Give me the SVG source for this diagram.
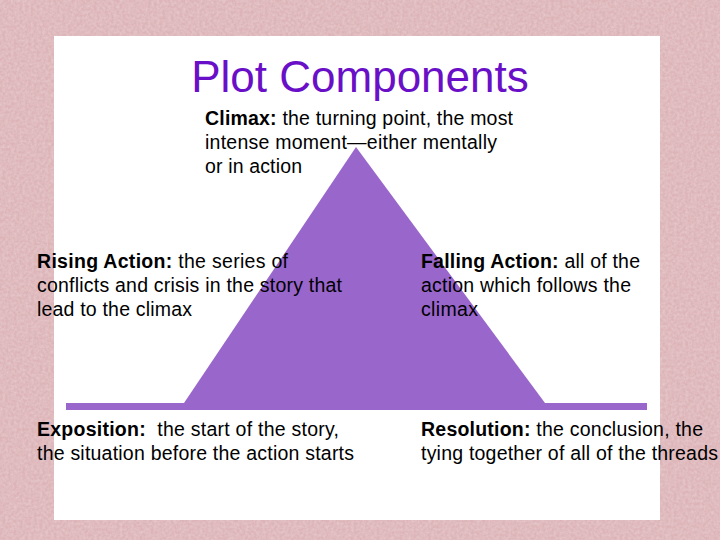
<svg xmlns="http://www.w3.org/2000/svg" width="720" height="540" viewBox="0 0 720 540">
  <defs>
    <filter id="grain" x="0" y="0" width="100%" height="100%">
      <feTurbulence type="fractalNoise" baseFrequency="0.35" numOctaves="3" seed="4" result="n"/>
      <feColorMatrix in="n" type="matrix" values="0 0 0 0 1  0 0 0 0 1  0 0 0 0 1  0 0 0 -1.2 0.9" result="w"/>
      <feComposite in="w" in2="SourceGraphic" operator="in"/>
    </filter>
    <style>
      .t { font-family: "Liberation Sans", Arial, sans-serif; font-size: 19.5px; fill: #000; }
      .b { font-weight: bold; }
      .title { font-family: "Liberation Sans", Arial, sans-serif; font-size: 44px; fill: #6a0fc8; }
      .plot { fill: #9966cc; }
    </style>
  </defs>
  <g id="background">
    <rect x="0" y="0" width="720" height="540" fill="#dcb3b7"/>
    <rect x="0" y="0" width="720" height="540" fill="#dcb3b7" filter="url(#grain)" opacity="0.35"/>
    <rect x="54" y="36" width="606" height="484" fill="#ffffff"/>
  </g>
  <g id="plot-shape">
    <polygon class="plot" points="356,147 545,403 184,403"/>
    <rect class="plot" x="66" y="403" width="581" height="7"/>
  </g>
  <g id="title">
    <text class="title" x="360" y="92" text-anchor="middle">Plot Components</text>
  </g>
  <g id="climax">
    <text class="t" x="205" y="125" textLength="308" lengthAdjust="spacing"><tspan class="b">Climax:</tspan> the turning point, the most</text>
    <text class="t" x="205" y="149" textLength="292" lengthAdjust="spacing">intense moment—either mentally</text>
    <text class="t" x="205" y="173" textLength="97" lengthAdjust="spacing">or in action</text>
  </g>
  <g id="rising-action">
    <text class="t" x="37" y="268" textLength="251" lengthAdjust="spacing"><tspan class="b">Rising Action:</tspan> the series of</text>
    <text class="t" x="37" y="292" textLength="305" lengthAdjust="spacing">conflicts and crisis in the story that</text>
    <text class="t" x="37" y="316" textLength="155" lengthAdjust="spacing">lead to the climax</text>
  </g>
  <g id="falling-action">
    <text class="t" x="421" y="268" textLength="219" lengthAdjust="spacing"><tspan class="b">Falling Action:</tspan> all of the</text>
    <text class="t" x="421" y="292" textLength="210" lengthAdjust="spacing">action which follows the</text>
    <text class="t" x="421" y="316" textLength="57" lengthAdjust="spacing">climax</text>
  </g>
  <g id="exposition">
    <text class="t" x="37" y="436" textLength="302" lengthAdjust="spacing"><tspan class="b">Exposition:</tspan>&#160; the start of the story,</text>
    <text class="t" x="37" y="460" textLength="317" lengthAdjust="spacing">the situation before the action starts</text>
  </g>
  <g id="resolution">
    <text class="t" x="421" y="436" textLength="282" lengthAdjust="spacing"><tspan class="b">Resolution:</tspan> the conclusion, the</text>
    <text class="t" x="421" y="460" textLength="297" lengthAdjust="spacing">tying together of all of the threads</text>
  </g>
  <g id="connectors"/>
</svg>
